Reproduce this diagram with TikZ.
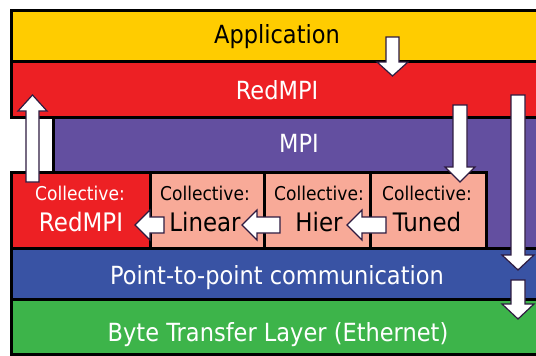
\documentclass[tikz,border=0pt]{standalone}
\usepackage{fontspec}
\setmainfont{DejaVu Sans}[FakeStretch=0.9]
\definecolor{cyellow}{HTML}{FFCC00}
\definecolor{cred}{HTML}{ED2024}
\definecolor{cpurple}{HTML}{634FA0}
\definecolor{csalmon}{HTML}{F8AA98}
\definecolor{cblue}{HTML}{3953A4}
\definecolor{cgreen}{HTML}{3DB44A}
\definecolor{aline}{HTML}{2E1B40}
\tikzset{
  layer/.style={draw=black, line width=3pt, inner sep=0pt, anchor=north west},
  bigtxt/.style={inner sep=0pt, anchor=base, font=\fontsize{25}{28}\selectfont},
  smalltxt/.style={inner sep=0pt, anchor=base, font=\fontsize{19}{22}\selectfont},
  midtxt/.style={inner sep=0pt, anchor=base, font=\fontsize{25.5}{28}\selectfont},
  blockarrow/.style={fill=white, draw=aline, line width=1.2pt, line join=miter},
}
\begin{document}
\begin{tikzpicture}[x=1pt, y=-1pt]
\useasboundingbox[fill=white] (0,0) rectangle (536,356);
\clip (0,0) rectangle (536,356);
% layers
\node[layer, fill=cyellow, minimum width=540pt, minimum height=51pt] (app) at (10,9) {};
\node[layer, fill=cred, minimum width=540pt, minimum height=56pt] (red) at (10,60) {};
\node[layer, fill=cpurple, minimum width=500pt, minimum height=131pt] (mpi) at (52,116) {};
\node[layer, fill=cred, minimum width=139pt, minimum height=76pt] (cred) at (10,171) {};
\node[layer, fill=csalmon, minimum width=114pt, minimum height=76pt] (clin) at (149,171) {};
\node[layer, fill=csalmon, minimum width=106pt, minimum height=76pt] (chier) at (263,171) {};
\node[layer, fill=csalmon, minimum width=116pt, minimum height=76pt] (ctuned) at (369,171) {};
\node[layer, fill=cblue, minimum width=540pt, minimum height=51pt] (p2p) at (10,247) {};
\node[layer, fill=cgreen, minimum width=540pt, minimum height=55pt] (btl) at (10,298) {};
% labels
\node[bigtxt, text=black] (tapp) at (277,43) {Application};
\node[bigtxt, text=white] (tred) at (277,99) {RedMPI};
\node[bigtxt, text=white] (tmpi) at (299,152) {MPI};
\node[smalltxt, text=white] (tc1a) at (80,200) {Collective:};
\node[midtxt, text=white] (tc1b) at (81,231) {RedMPI};
\node[smalltxt, text=black] (tc2a) at (205,200) {Collective:};
\node[midtxt, text=black] (tc2b) at (205,231) {Linear};
\node[smalltxt, text=black] (tc3a) at (319,200) {Collective:};
\node[midtxt, text=black] (tc3b) at (319,231) {Hier};
\node[smalltxt, text=black] (tc4a) at (427,200) {Collective:};
\node[midtxt, text=black] (tc4b) at (427,231) {Tuned};
\node[bigtxt, text=white] (tp2p) at (277,284) {Point-to-point communication};
\node[bigtxt, text=white] (tbtl) at (278,341) {Byte Transfer Layer (Ethernet)};
% block arrows: down
\draw[blockarrow] (386,37) -- (399,37) -- (399,62) -- (408,62) -- (392.5,76) -- (377,62) -- (386,62) -- cycle;
\draw[blockarrow] (453,105) -- (467,105) -- (467,167) -- (475,167) -- (460,182) -- (445,167) -- (453,167) -- cycle;
\draw[blockarrow] (511,95) -- (525,95) -- (525,255) -- (534,255) -- (518,270) -- (502,255) -- (511,255) -- cycle;
\draw[blockarrow] (511,280) -- (525,280) -- (525,304) -- (534,304) -- (518,319) -- (502,304) -- (511,304) -- cycle;
% up arrow
\draw[blockarrow] (26,182) -- (39,182) -- (39,111) -- (47,111) -- (32.5,95) -- (18,111) -- (26,111) -- cycle;
% left arrows
\draw[blockarrow] (164,217) -- (164,233) -- (150,233) -- (150,240) -- (135,225) -- (150,210) -- (150,217) -- cycle;
\draw[blockarrow] (280,217) -- (280,233) -- (257,233) -- (257,240) -- (242,225) -- (257,210) -- (257,217) -- cycle;
\draw[blockarrow] (386,217) -- (386,233) -- (362,233) -- (362,240) -- (347,225) -- (362,210) -- (362,217) -- cycle;
\end{tikzpicture}
\end{document}
